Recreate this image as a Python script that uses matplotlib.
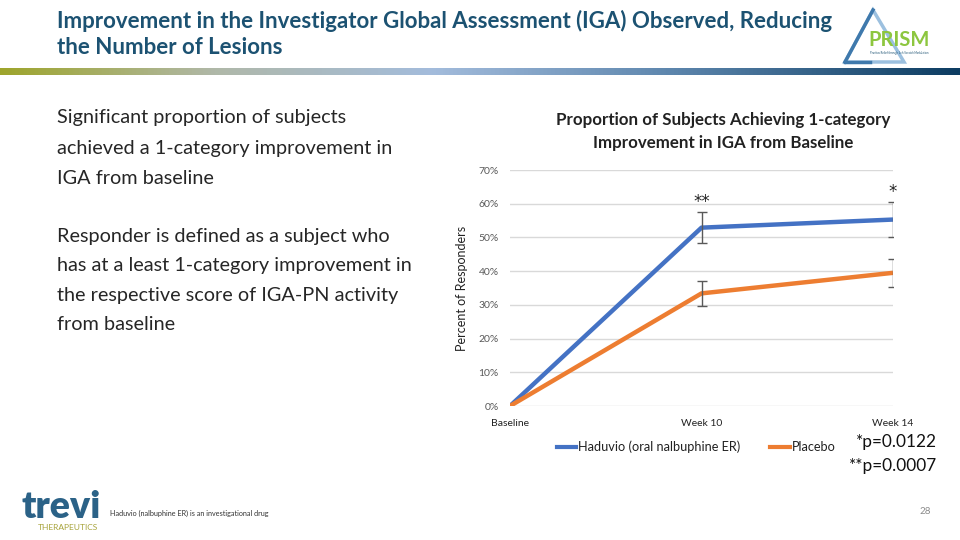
import matplotlib
matplotlib.use("Agg")
import matplotlib.pyplot as plt
import numpy as np
from matplotlib.colors import LinearSegmentedColormap
from matplotlib.lines import Line2D
from matplotlib.patches import Polygon

plt.rcParams['font.family'] = ['Lato', 'DejaVu Sans']

# ---- data ----
timepoints = ["Baseline", "Week 10", "Week 14"]
haduvio = [0.0, 52.9, 55.3]
haduvio_err = [0.0, 4.6, 5.1]
placebo = [0.0, 33.4, 39.5]
placebo_err = [0.0, 3.7, 4.2]
yticks = [0, 10, 20, 30, 40, 50, 60, 70]
sig_labels = ["", "**", "*"]

W, H = 960, 540
fig = plt.figure(figsize=(9.6, 5.4), dpi=100)
fig.patch.set_facecolor("white")

def fx(x):
    return x / W

def fy(y):
    return 1 - y / H

# ---- header ----
title_col = "#1c5272"
fig.text(fx(57), fy(21), "Improvement in the Investigator Global Assessment (IGA) Observed, Reducing",
         fontsize=16, fontweight="bold", color=title_col, va="center", ha="left")
fig.text(fx(57), fy(47), "the Number of Lesions",
         fontsize=16, fontweight="bold", color=title_col, va="center", ha="left")

# gradient band
band = fig.add_axes([0, fy(75), 1, 7 / H])
cmap = LinearSegmentedColormap.from_list(
    "band", [(0, "#9ea52c"), (0.22, "#b0b8a8"), (0.45, "#a3bcdc"), (0.7, "#5d86ad"), (1.0, "#0d3d62")])
band.imshow(np.linspace(0, 1, 500)[None, :], aspect="auto", cmap=cmap, extent=[0, 1, 0, 1])
band.set_axis_off()

# PRISM logo (approximation), coordinates in pixels
logo = fig.add_axes([0, 0, 1, 1], zorder=-1)
logo.set_xlim(0, W)
logo.set_ylim(H, 0)
logo.set_axis_off()
logo.add_patch(Polygon([[845, 62], [873, 10], [904, 62]], closed=True, fill=False,
                       edgecolor="#9cc0df", linewidth=2.5))
logo.plot([845, 873], [62, 10], color="#3f79ac", linewidth=2.5)
logo.plot([845, 870], [62, 62], color="#3f79ac", linewidth=2.5)
logo.text(868, 40, "PRISM", fontsize=14.5, fontweight="bold", color="#8dc63f", ha="left", va="center")
logo.text(870, 53, "Pruritus Relief through Itch-Scratch Modulation", fontsize=2.0,
          color="#1c5272", ha="left", va="center")

# ---- left text ----
body_col = "#262626"
left_lines = [
    (118, "Significant proportion of subjects"),
    (148, "achieved a 1-category improvement in"),
    (178, "IGA from baseline"),
    (236, "Responder is defined as a subject who"),
    (265, "has at a least 1-category improvement in"),
    (295, "the respective score of IGA-PN activity"),
    (324, "from baseline"),
]
for y, t in left_lines:
    fig.text(fx(57), fy(y), t, fontsize=14.3, color=body_col, ha="left", va="center")

# ---- chart ----
fig.text(fx(723), fy(120), "Proportion of Subjects Achieving 1-category",
         fontsize=12.2, fontweight="bold", color="#222222", ha="center", va="center")
fig.text(fx(723), fy(143), "Improvement in IGA from Baseline",
         fontsize=12.2, fontweight="bold", color="#222222", ha="center", va="center")

ax = fig.add_axes([fx(510), fy(406), 383 / W, 236 / H])
x = np.arange(len(timepoints))
ax.set_xlim(0, len(timepoints) - 1)
ax.set_ylim(0, 70)
ax.set_yticks(yticks)
ax.set_yticklabels([f"{v}%" for v in yticks], fontsize=7.5, color="#595959")
ax.set_xticks(x)
ax.set_xticklabels(timepoints, fontsize=7.5, color="#222222")
ax.tick_params(axis="both", length=0, pad=8)
ax.tick_params(axis="x", pad=9)
for s in ax.spines.values():
    s.set_visible(False)
ax.grid(axis="y", color="#d9d9d9", linewidth=1)
ax.set_axisbelow(True)

ax.plot(x, haduvio, color="#4472c4", linewidth=3.2, solid_capstyle="butt", zorder=3)
ax.plot(x, placebo, color="#ed7d31", linewidth=3.2, solid_capstyle="butt", zorder=3)
for vals, errs in ((haduvio, haduvio_err), (placebo, placebo_err)):
    for xi, v, e in zip(x[1:], vals[1:], errs[1:]):
        eb = ax.errorbar([xi], [v], yerr=[e], fmt="none", ecolor="#595959", elinewidth=1,
                         capsize=3.5, capthick=1, zorder=4)
        for art in list(eb.lines[1]) + list(eb.lines[2]):
            art.set_clip_on(True)

for xi, lab, v, e in zip(x, sig_labels, haduvio, haduvio_err):
    if lab:
        ax.annotate(lab, (xi, v + e), xytext=(0, 1), textcoords="offset points",
                    ha="center", va="bottom", fontsize=12, color="#222222",
                    family=["DejaVu Sans"], annotation_clip=False)

ax.set_ylabel("Percent of Responders", fontsize=9, color="#222222", labelpad=8)

# legend
fig.add_artist(Line2D([fx(557), fx(576)], [fy(447), fy(447)], color="#4472c4", linewidth=3))
fig.text(fx(578), fy(447), "Haduvio (oral nalbuphine ER)", fontsize=9.2, color="#222222", ha="left", va="center")
fig.add_artist(Line2D([fx(770), fx(790)], [fy(447), fy(447)], color="#ed7d31", linewidth=3))
fig.text(fx(792), fy(447), "Placebo", fontsize=9.2, color="#222222", ha="left", va="center")

fig.text(fx(937), fy(442), "*p=0.0122", fontsize=12.4, color="#111111", ha="right", va="center")
fig.text(fx(937), fy(466), "**p=0.0007", fontsize=12.4, color="#111111", ha="right", va="center")

# ---- footer ----
fig.text(fx(21), fy(507), "trevi", fontsize=27, fontweight="heavy", color="#2b6287",
         ha="left", va="center")
fig.text(fx(38), fy(528), "THERAPEUTICS", fontsize=6, color="#a7a33a", ha="left", va="center")
fig.text(fx(110), fy(513), "Haduvio (nalbuphine ER) is an investigational drug", fontsize=5.2,
         color="#333333", ha="left", va="center")
fig.text(fx(931), fy(512), "28", fontsize=7, color="#8c8c8c", ha="right", va="center")

fig.savefig("out.png", dpi=100, facecolor="white")
